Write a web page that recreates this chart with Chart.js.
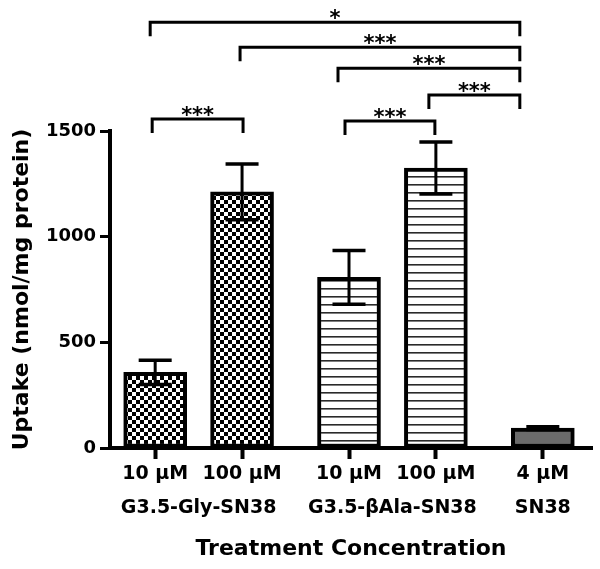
<!DOCTYPE html>
<html>
<head>
<meta charset="utf-8">
<script src="https://cdn.jsdelivr.net/npm/chart.js@4.4.1/dist/chart.umd.min.js"></script>
<style>
  html, body { margin: 0; padding: 0; background: #fff; }
  #wrap { width: 600px; height: 569px; }
</style>
</head>
<body>
<div id="wrap"><canvas id="uptakeChart"></canvas></div>
<script>
// values (nmol/mg protein, mean +/- error)
const concLabels = ['10 μM', '100 μM', '10 μM', '100 μM', '4 μM'];
const groupOf = [0, 0, 1, 1, 2];
const groupNames = ['G3.5-Gly-SN38', 'G3.5-βAla-SN38', 'SN38'];
const uptake = [358, 1212, 807, 1325, 94];
const uptakeErr = [57, 132, 127, 123, 7];
const yTicks = [0, 500, 1000, 1500];

// significance brackets: bar indices, stars, height in y units
const comparisons = [
    { from: 0, to: 4, stars: '*',   level: 2014, dx: [-5, -23] },
    { from: 1, to: 4, stars: '***', level: 1896, dx: [-2, -23] },
    { from: 2, to: 4, stars: '***', level: 1797, dx: [-11, -23] },
    { from: 3, to: 4, stars: '***', level: 1670, dx: [-7, -23] },
    { from: 0, to: 1, stars: '***', level: 1557, dx: [-3, 1] },
    { from: 2, to: 3, stars: '***', level: 1547, dx: [-4, -1] },
];

const GROUP_GAP = 0.231; // extra space between the three groups
const barPos = groupOf.map((g, i) => i + g * GROUP_GAP);
const groupPos = groupNames.map((_, g) => {
    const members = barPos.filter((_, i) => groupOf[i] === g);
    return members.reduce((s, v) => s + v, 0) / members.length;
});

const FONT = "'DejaVu Sans', 'Liberation Sans', Arial, sans-serif";
Chart.defaults.font.family = FONT;
Chart.defaults.font.weight = 'bold';
Chart.defaults.color = '#000';

const canvas = document.getElementById('uptakeChart');
const ctx = canvas.getContext('2d');

function checkerPattern() {
    const c = document.createElement('canvas');
    c.width = 8; c.height = 8;
    const g = c.getContext('2d');
    g.fillStyle = '#fff'; g.fillRect(0, 0, 8, 8);
    g.fillStyle = '#000';
    g.fillRect(0, 0, 4, 4);
    g.fillRect(4, 4, 4, 4);
    return ctx.createPattern(c, 'repeat');
}

function stripePattern() {
    const c = document.createElement('canvas');
    c.width = 8; c.height = 8;
    const g = c.getContext('2d');
    g.fillStyle = '#fff'; g.fillRect(0, 0, 8, 8);
    g.fillStyle = '#2a2a2a';
    g.fillRect(0, 0, 8, 1.6);
    return ctx.createPattern(c, 'repeat');
}

const checker = checkerPattern();
const stripes = stripePattern();
const fills = [checker, checker, stripes, stripes, '#6b6b6b'];

const errorBars = {
    id: 'errorBars',
    afterDatasetsDraw(chart) {
        const { ctx, scales: { x, y } } = chart;
        ctx.save();
        ctx.strokeStyle = '#000';
        uptake.forEach((v, i) => {
            const px = x.getPixelForValue(barPos[i]);
            const top = y.getPixelForValue(v + uptakeErr[i]);
            const bot = y.getPixelForValue(v - uptakeErr[i]);
            ctx.lineWidth = 3;
            ctx.beginPath();
            ctx.moveTo(px, top); ctx.lineTo(px, bot);
            ctx.stroke();
            ctx.lineWidth = 3.5;
            ctx.beginPath();
            ctx.moveTo(px - 16.5, top); ctx.lineTo(px + 16.5, top);
            ctx.moveTo(px - 16.5, bot); ctx.lineTo(px + 16.5, bot);
            ctx.stroke();
        });
        ctx.restore();
    }
};

const brackets = {
    id: 'brackets',
    afterDraw(chart) {
        const { ctx, scales: { x, y } } = chart;
        ctx.save();
        ctx.strokeStyle = '#000';
        ctx.fillStyle = '#000';
        ctx.lineWidth = 3;
        ctx.lineJoin = 'miter';
        ctx.font = 'bold 21px ' + FONT;
        ctx.textAlign = 'center';
        ctx.textBaseline = 'alphabetic';
        comparisons.forEach(c => {
            const x1 = x.getPixelForValue(barPos[c.from]) + c.dx[0];
            const x2 = x.getPixelForValue(barPos[c.to]) + c.dx[1];
            const yy = y.getPixelForValue(c.level);
            ctx.beginPath();
            ctx.moveTo(x1, yy + 14);
            ctx.lineTo(x1, yy);
            ctx.lineTo(x2, yy);
            ctx.lineTo(x2, yy + 14);
            ctx.stroke();
            ctx.fillText(c.stars, (x1 + x2) / 2, yy + 3);
        });
        ctx.restore();
    }
};

new Chart(ctx, {
    type: 'bar',
    data: {
        datasets: [{
            data: barPos.map((p, i) => ({ x: p, y: uptake[i] })),
            backgroundColor: fills,
            borderColor: '#000',
            borderWidth: 4,
            borderSkipped: false,
            barThickness: 63,
        }]
    },
    options: {
        responsive: true,
        maintainAspectRatio: false,
        devicePixelRatio: 1,
        animation: false,
        layout: { padding: { top: 131, right: 8, left: 0, bottom: 0 } },
        plugins: {
            legend: { display: false },
            tooltip: { enabled: false },
        },
        scales: {
            y: {
                min: 0,
                max: 1500,
                afterBuildTicks: s => { s.ticks = yTicks.map(v => ({ value: v })); },
                afterFit: s => { s.width = 110; },
                ticks: {
                    font: { size: 18, weight: 'bold' },
                    padding: 4,
                    color: '#000',
                    callback: v => String(v),
                },
                grid: { drawOnChartArea: false, drawTicks: true, tickLength: 10, tickWidth: 3, tickColor: '#000' },
                border: { display: true, width: 4, color: '#000' },
                title: {
                    display: true,
                    text: 'Uptake (nmol/mg protein)',
                    font: { size: 22, weight: 'bold' },
                    color: '#000',
                    padding: { top: 9, bottom: 0 },
                },
            },
            x: {
                type: 'linear',
                position: 'bottom',
                offset: false,
                weight: 0,
                min: -0.52,
                max: 5.028,
                afterBuildTicks: s => { s.ticks = barPos.map(v => ({ value: v })); },
                afterFit: s => { s.height = 42; },
                ticks: {
                    autoSkip: false,
                    maxRotation: 0,
                    padding: 4,
                    font: { size: 19, weight: 'bold' },
                    color: '#000',
                    callback: (v, i) => concLabels[i],
                },
                grid: { offset: false, drawOnChartArea: false, drawTicks: true, tickLength: 11, tickWidth: 4, tickColor: '#000' },
                border: { display: true, width: 4, color: '#000' },
            },
            groups: {
                type: 'linear',
                position: 'bottom',
                offset: false,
                weight: 1,
                min: -0.52,
                max: 5.028,
                afterBuildTicks: s => { s.ticks = groupPos.map(v => ({ value: v })); },
                afterFit: s => { s.height = 79; },
                ticks: {
                    autoSkip: false,
                    maxRotation: 0,
                    padding: 7,
                    font: { size: 19, weight: 'bold' },
                    color: '#000',
                    callback: (v, i) => groupNames[i],
                },
                grid: { display: false, offset: false, drawTicks: false, tickLength: 0 },
                border: { display: false },
                title: {
                    display: true,
                    text: 'Treatment Concentration',
                    font: { size: 22, weight: 'bold' },
                    color: '#000',
                    padding: { top: 0, bottom: 7 },
                },
            },
        },
    },
    plugins: [errorBars, brackets],
});
</script>
</body>
</html>
